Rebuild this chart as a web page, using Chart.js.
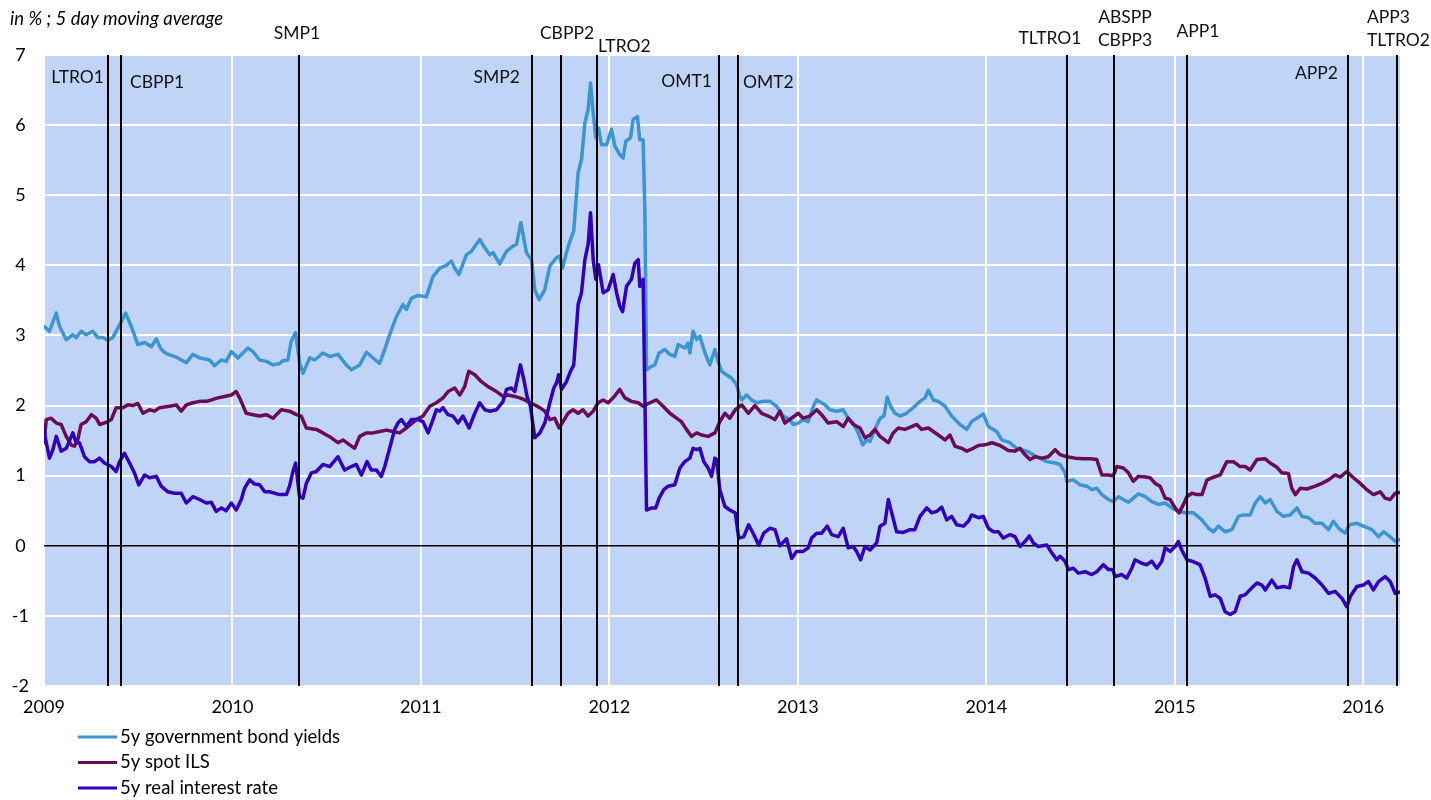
<!DOCTYPE html>
<html>
<head>
<meta charset="utf-8">
<title>5y yields, ILS and real rates</title>
<script src="https://cdn.jsdelivr.net/npm/chart.js@4.4.1/dist/chart.umd.min.js"></script>
<style>
  html, body { margin: 0; padding: 0; background: #fff; }
  #wrap { width: 1431px; height: 800px; }
</style>
</head>
<body>
<div id="wrap"><canvas id="rates-chart" width="1431" height="800"></canvas></div>
<script>
  // axis ticks
  const yearTicks = [2009, 2010, 2011, 2012, 2013, 2014, 2015, 2016];
  const valueTicks = [-2, -1, 0, 1, 2, 3, 4, 5, 6, 7];
  const lastDate = 2016.195;

  // ECB announcements (fractional year) and their names
  const eventDates = [2009.339, 2009.410, 2010.354, 2011.591, 2011.744, 2011.935,
    2012.582, 2012.683, 2014.427, 2014.678, 2015.066, 2015.920, 2016.180];
  const eventLabels = [['LTRO1'], ['CBPP1'], ['SMP1'], ['SMP2'], ['CBPP2'], ['LTRO2'],
    ['OMT1'], ['OMT2'], ['TLTRO1'], ['ABSPP', 'CBPP3'], ['APP1'], ['APP2'], ['APP3', 'TLTRO2']];

  // [date, %] pairs, 5 day moving average
  const bondYields = [
    [2009.000,3.13],[2009.029,3.06],[2009.065,3.32],[2009.082,3.13],[2009.118,2.94],[2009.153,3.01],
    [2009.171,2.97],[2009.197,3.06],[2009.224,3.01],[2009.259,3.06],[2009.286,2.97],[2009.312,2.97],
    [2009.339,2.93],[2009.365,2.97],[2009.401,3.15],[2009.433,3.32],[2009.463,3.13],[2009.498,2.87],
    [2009.534,2.90],[2009.569,2.84],[2009.596,2.95],[2009.622,2.80],[2009.649,2.74],[2009.702,2.69],
    [2009.755,2.61],[2009.790,2.73],[2009.826,2.68],[2009.879,2.65],[2009.905,2.57],[2009.941,2.65],
    [2009.967,2.63],[2009.994,2.77],[2010.029,2.68],[2010.082,2.82],[2010.109,2.77],[2010.144,2.65],
    [2010.180,2.63],[2010.215,2.58],[2010.250,2.60],[2010.268,2.64],[2010.294,2.65],[2010.312,2.92],
    [2010.335,3.04],[2010.356,2.61],[2010.374,2.46],[2010.410,2.68],[2010.436,2.65],[2010.480,2.75],
    [2010.516,2.70],[2010.560,2.73],[2010.604,2.58],[2010.631,2.51],[2010.675,2.58],[2010.711,2.76],
    [2010.737,2.70],[2010.781,2.60],[2010.808,2.80],[2010.834,3.01],[2010.870,3.27],[2010.905,3.44],
    [2010.923,3.37],[2010.949,3.53],[2010.985,3.57],[2011.029,3.55],[2011.064,3.84],[2011.100,3.96],
    [2011.135,4.00],[2011.162,4.06],[2011.179,3.96],[2011.202,3.87],[2011.241,4.15],[2011.268,4.20],
    [2011.312,4.37],[2011.339,4.25],[2011.365,4.15],[2011.383,4.18],[2011.418,4.02],[2011.454,4.20],
    [2011.486,4.27],[2011.507,4.30],[2011.530,4.61],[2011.560,4.18],[2011.587,4.08],[2011.604,3.65],
    [2011.627,3.51],[2011.657,3.65],[2011.684,3.99],[2011.719,4.11],[2011.737,4.13],[2011.751,3.96],
    [2011.772,4.18],[2011.790,4.34],[2011.811,4.49],[2011.834,5.32],[2011.852,5.51],[2011.870,6.03],
    [2011.887,6.22],[2011.900,6.60],[2011.914,6.17],[2011.928,5.82],[2011.942,5.96],[2011.958,5.72],
    [2011.985,5.72],[2012.011,5.94],[2012.029,5.70],[2012.055,5.58],[2012.073,5.53],[2012.087,5.77],
    [2012.112,5.82],[2012.126,6.08],[2012.149,6.12],[2012.161,5.79],[2012.179,5.79],[2012.188,4.80],
    [2012.197,2.51],[2012.224,2.56],[2012.241,2.58],[2012.264,2.75],[2012.294,2.80],[2012.321,2.73],
    [2012.347,2.70],[2012.365,2.87],[2012.400,2.82],[2012.418,2.89],[2012.427,2.75],[2012.444,3.06],
    [2012.463,2.94],[2012.480,2.99],[2012.507,2.75],[2012.533,2.58],[2012.560,2.80],[2012.577,2.63],
    [2012.595,2.49],[2012.622,2.44],[2012.648,2.39],[2012.675,2.30],[2012.692,2.13],[2012.702,2.08],
    [2012.728,2.15],[2012.755,2.08],[2012.781,2.04],[2012.816,2.06],[2012.852,2.06],[2012.887,1.99],
    [2012.922,1.85],[2012.958,1.80],[2012.975,1.73],[2013.002,1.75],[2013.028,1.80],[2013.055,1.77],
    [2013.082,1.99],[2013.100,2.08],[2013.144,2.01],[2013.170,1.94],[2013.206,1.92],[2013.241,1.94],
    [2013.267,1.82],[2013.294,1.75],[2013.320,1.61],[2013.344,1.44],[2013.365,1.51],[2013.383,1.49],
    [2013.409,1.66],[2013.436,1.82],[2013.457,1.85],[2013.474,2.12],[2013.492,1.99],[2013.515,1.89],
    [2013.542,1.85],[2013.577,1.89],[2013.612,1.97],[2013.648,2.06],[2013.675,2.11],[2013.692,2.22],
    [2013.719,2.08],[2013.745,2.06],[2013.781,1.99],[2013.816,1.85],[2013.860,1.73],[2013.896,1.66],
    [2013.922,1.77],[2013.949,1.82],[2013.984,1.88],[2014.011,1.70],[2014.055,1.63],[2014.082,1.51],
    [2014.126,1.47],[2014.161,1.39],[2014.215,1.35],[2014.268,1.27],[2014.321,1.20],[2014.365,1.18],
    [2014.391,1.16],[2014.418,1.04],[2014.427,0.92],[2014.462,0.94],[2014.497,0.87],[2014.533,0.85],
    [2014.560,0.80],[2014.586,0.82],[2014.613,0.73],[2014.648,0.66],[2014.674,0.63],[2014.701,0.70],
    [2014.727,0.66],[2014.754,0.62],[2014.780,0.68],[2014.807,0.74],[2014.843,0.70],[2014.878,0.63],
    [2014.913,0.59],[2014.949,0.61],[2014.984,0.54],[2015.019,0.49],[2015.055,0.47],[2015.099,0.47],
    [2015.144,0.37],[2015.179,0.25],[2015.205,0.20],[2015.232,0.28],[2015.267,0.20],[2015.303,0.23],
    [2015.338,0.42],[2015.364,0.44],[2015.400,0.44],[2015.427,0.61],[2015.453,0.70],[2015.480,0.61],
    [2015.506,0.66],[2015.542,0.49],[2015.577,0.42],[2015.612,0.44],[2015.648,0.54],[2015.675,0.42],
    [2015.710,0.40],[2015.745,0.32],[2015.781,0.32],[2015.816,0.23],[2015.842,0.35],[2015.869,0.25],
    [2015.904,0.18],[2015.927,0.30],[2015.966,0.32],[2016.001,0.28],[2016.046,0.23],[2016.081,0.13],
    [2016.108,0.20],[2016.143,0.13],[2016.170,0.06],[2016.193,0.09]
  ];

  const spotIls = [
    [2009.000,1.47],[2009.012,1.80],[2009.038,1.82],[2009.065,1.75],[2009.091,1.73],[2009.118,1.56],
    [2009.144,1.44],[2009.162,1.42],[2009.179,1.51],[2009.197,1.73],[2009.224,1.77],[2009.251,1.87],
    [2009.277,1.82],[2009.295,1.73],[2009.330,1.76],[2009.357,1.80],[2009.383,1.97],[2009.418,1.97],
    [2009.445,2.01],[2009.471,2.00],[2009.498,2.03],[2009.525,1.89],[2009.560,1.94],[2009.587,1.92],
    [2009.613,1.97],[2009.666,1.99],[2009.702,2.01],[2009.728,1.92],[2009.755,2.01],[2009.790,2.04],
    [2009.826,2.06],[2009.861,2.06],[2009.888,2.08],[2009.923,2.11],[2009.958,2.13],[2009.994,2.15],
    [2010.020,2.20],[2010.038,2.11],[2010.073,1.89],[2010.109,1.87],[2010.144,1.85],[2010.180,1.87],
    [2010.215,1.82],[2010.259,1.94],[2010.303,1.92],[2010.339,1.87],[2010.365,1.85],[2010.392,1.68],
    [2010.445,1.66],[2010.480,1.61],[2010.525,1.54],[2010.560,1.47],[2010.586,1.51],[2010.622,1.44],
    [2010.648,1.39],[2010.675,1.56],[2010.711,1.61],[2010.746,1.61],[2010.781,1.63],[2010.817,1.65],
    [2010.852,1.63],[2010.887,1.61],[2010.923,1.68],[2010.976,1.80],[2011.011,1.85],[2011.047,1.99],
    [2011.082,2.04],[2011.117,2.11],[2011.144,2.20],[2011.179,2.25],[2011.206,2.15],[2011.232,2.27],
    [2011.254,2.49],[2011.286,2.44],[2011.321,2.34],[2011.356,2.27],[2011.401,2.20],[2011.436,2.13],
    [2011.462,2.15],[2011.498,2.13],[2011.524,2.11],[2011.551,2.08],[2011.578,2.04],[2011.604,2.01],
    [2011.631,1.97],[2011.657,1.92],[2011.684,1.80],[2011.710,1.82],[2011.733,1.68],[2011.754,1.77],
    [2011.781,1.89],[2011.807,1.94],[2011.834,1.89],[2011.860,1.94],[2011.887,1.85],[2011.914,1.92],
    [2011.940,2.04],[2011.967,2.08],[2011.993,2.04],[2012.020,2.11],[2012.055,2.23],[2012.082,2.11],
    [2012.117,2.06],[2012.153,2.04],[2012.179,1.99],[2012.215,2.04],[2012.250,2.08],[2012.285,1.99],
    [2012.321,1.89],[2012.356,1.82],[2012.382,1.77],[2012.409,1.66],[2012.436,1.56],[2012.463,1.61],
    [2012.489,1.58],[2012.524,1.56],[2012.560,1.61],[2012.586,1.77],[2012.613,1.89],[2012.639,1.82],
    [2012.668,1.94],[2012.702,2.01],[2012.737,1.89],[2012.772,2.00],[2012.808,1.89],[2012.843,1.85],
    [2012.878,1.80],[2012.905,1.92],[2012.931,1.75],[2012.967,1.82],[2013.002,1.89],[2013.028,1.82],
    [2013.064,1.85],[2013.100,1.94],[2013.126,1.87],[2013.161,1.75],[2013.206,1.77],[2013.241,1.70],
    [2013.267,1.82],[2013.294,1.73],[2013.330,1.68],[2013.356,1.54],[2013.383,1.58],[2013.409,1.66],
    [2013.436,1.56],[2013.480,1.47],[2013.506,1.61],[2013.533,1.68],[2013.568,1.66],[2013.604,1.70],
    [2013.631,1.73],[2013.657,1.66],[2013.692,1.68],[2013.719,1.63],[2013.745,1.58],[2013.781,1.51],
    [2013.807,1.58],[2013.834,1.42],[2013.869,1.39],[2013.896,1.35],[2013.931,1.39],[2013.958,1.43],
    [2013.993,1.44],[2014.029,1.47],[2014.073,1.43],[2014.117,1.36],[2014.152,1.35],[2014.179,1.39],
    [2014.205,1.30],[2014.232,1.23],[2014.259,1.27],[2014.294,1.25],[2014.329,1.27],[2014.365,1.37],
    [2014.391,1.30],[2014.427,1.27],[2014.471,1.25],[2014.515,1.24],[2014.551,1.24],[2014.586,1.23],
    [2014.613,1.01],[2014.648,1.01],[2014.674,1.00],[2014.692,1.13],[2014.727,1.11],[2014.754,1.04],
    [2014.780,0.92],[2014.807,0.99],[2014.843,0.98],[2014.869,0.97],[2014.896,0.89],[2014.922,0.85],
    [2014.949,0.68],[2014.975,0.66],[2015.002,0.54],[2015.023,0.47],[2015.046,0.59],[2015.064,0.70],
    [2015.091,0.75],[2015.118,0.73],[2015.144,0.73],[2015.171,0.94],[2015.197,0.97],[2015.241,1.01],
    [2015.276,1.20],[2015.311,1.20],[2015.347,1.13],[2015.373,1.13],[2015.400,1.08],[2015.436,1.23],
    [2015.480,1.24],[2015.506,1.18],[2015.542,1.12],[2015.568,1.04],[2015.603,1.03],[2015.621,0.82],
    [2015.640,0.73],[2015.666,0.82],[2015.701,0.81],[2015.745,0.85],[2015.781,0.89],[2015.816,0.94],
    [2015.851,1.01],[2015.878,0.98],[2015.913,1.06],[2015.948,0.97],[2015.984,0.89],[2016.019,0.80],
    [2016.054,0.73],[2016.090,0.77],[2016.116,0.68],[2016.143,0.66],[2016.170,0.75],[2016.193,0.76]
  ];

  const realRates = [
    [2009.000,1.66],[2009.012,1.47],[2009.029,1.25],[2009.047,1.37],[2009.065,1.56],[2009.091,1.35],
    [2009.118,1.39],[2009.153,1.61],[2009.171,1.47],[2009.188,1.47],[2009.215,1.27],[2009.242,1.20],
    [2009.268,1.20],[2009.295,1.25],[2009.321,1.18],[2009.357,1.13],[2009.383,1.06],[2009.401,1.20],
    [2009.427,1.32],[2009.454,1.18],[2009.480,1.04],[2009.503,0.87],[2009.534,1.01],[2009.560,0.97],
    [2009.596,0.99],[2009.622,0.85],[2009.657,0.77],[2009.693,0.75],[2009.728,0.75],[2009.755,0.61],
    [2009.790,0.70],[2009.826,0.66],[2009.861,0.61],[2009.888,0.62],[2009.914,0.49],[2009.941,0.54],
    [2009.967,0.50],[2009.994,0.61],[2010.020,0.51],[2010.047,0.66],[2010.064,0.82],[2010.091,0.94],
    [2010.118,0.88],[2010.144,0.87],[2010.171,0.77],[2010.197,0.77],[2010.250,0.73],[2010.286,0.73],
    [2010.303,0.85],[2010.321,1.06],[2010.335,1.18],[2010.356,0.70],[2010.374,0.68],[2010.392,0.89],
    [2010.419,1.04],[2010.445,1.06],[2010.480,1.16],[2010.516,1.13],[2010.560,1.27],[2010.595,1.08],
    [2010.631,1.13],[2010.657,1.16],[2010.684,1.01],[2010.714,1.20],[2010.737,1.08],[2010.764,1.08],
    [2010.790,0.99],[2010.808,1.13],[2010.834,1.39],[2010.861,1.66],[2010.878,1.75],[2010.896,1.80],
    [2010.923,1.70],[2010.949,1.80],[2010.985,1.80],[2011.011,1.77],[2011.038,1.61],[2011.064,1.80],
    [2011.082,1.94],[2011.100,1.92],[2011.117,1.97],[2011.144,1.87],[2011.170,1.85],[2011.197,1.75],
    [2011.223,1.85],[2011.255,1.68],[2011.286,1.89],[2011.312,2.04],[2011.339,1.94],[2011.365,1.92],
    [2011.401,1.94],[2011.436,2.06],[2011.454,2.23],[2011.480,2.25],[2011.498,2.20],[2011.528,2.58],
    [2011.546,2.37],[2011.563,2.13],[2011.581,1.99],[2011.604,1.54],[2011.631,1.61],[2011.657,1.75],
    [2011.684,2.04],[2011.705,2.25],[2011.719,2.32],[2011.731,2.44],[2011.746,2.23],[2011.772,2.34],
    [2011.794,2.49],[2011.811,2.58],[2011.834,3.44],[2011.852,3.61],[2011.870,4.08],[2011.887,4.30],
    [2011.900,4.75],[2011.914,4.08],[2011.928,3.80],[2011.942,4.01],[2011.967,3.61],[2011.993,3.65],
    [2012.020,3.87],[2012.038,3.61],[2012.055,3.42],[2012.070,3.34],[2012.091,3.70],[2012.117,3.80],
    [2012.135,4.03],[2012.153,4.08],[2012.161,3.70],[2012.179,3.80],[2012.188,2.18],[2012.197,0.51],
    [2012.224,0.54],[2012.246,0.54],[2012.264,0.68],[2012.289,0.80],[2012.312,0.85],[2012.347,0.87],
    [2012.374,1.11],[2012.400,1.20],[2012.427,1.25],[2012.444,1.39],[2012.463,1.37],[2012.480,1.39],
    [2012.501,1.20],[2012.524,1.11],[2012.542,0.99],[2012.560,1.25],[2012.569,1.23],[2012.586,0.80],
    [2012.613,0.56],[2012.639,0.51],[2012.668,0.47],[2012.686,0.11],[2012.713,0.13],[2012.739,0.30],
    [2012.766,0.16],[2012.792,0.01],[2012.819,0.18],[2012.852,0.25],[2012.879,0.23],[2012.905,0.00],
    [2012.940,0.10],[2012.967,-0.18],[2012.993,-0.08],[2013.028,-0.08],[2013.055,-0.03],[2013.073,0.11],
    [2013.100,0.18],[2013.126,0.18],[2013.156,0.28],[2013.179,0.16],[2013.214,0.13],[2013.241,0.25],
    [2013.267,-0.03],[2013.294,-0.01],[2013.312,-0.08],[2013.333,-0.20],[2013.356,-0.01],[2013.383,-0.06],
    [2013.418,0.04],[2013.436,0.28],[2013.462,0.32],[2013.480,0.66],[2013.498,0.47],[2013.524,0.20],
    [2013.559,0.19],[2013.595,0.23],[2013.621,0.23],[2013.648,0.42],[2013.684,0.54],[2013.710,0.47],
    [2013.737,0.49],[2013.763,0.55],[2013.790,0.37],[2013.816,0.42],[2013.843,0.30],[2013.878,0.28],
    [2013.905,0.35],[2013.922,0.44],[2013.958,0.40],[2013.984,0.42],[2014.011,0.25],[2014.038,0.20],
    [2014.064,0.20],[2014.090,0.11],[2014.126,0.16],[2014.152,0.13],[2014.179,-0.01],[2014.205,0.06],
    [2014.228,0.14],[2014.249,0.04],[2014.276,-0.01],[2014.321,0.01],[2014.347,-0.10],[2014.374,-0.20],
    [2014.391,-0.15],[2014.418,-0.22],[2014.435,-0.34],[2014.462,-0.32],[2014.488,-0.39],[2014.524,-0.37],
    [2014.560,-0.41],[2014.586,-0.37],[2014.621,-0.27],[2014.648,-0.34],[2014.671,-0.34],[2014.683,-0.44],
    [2014.718,-0.41],[2014.745,-0.46],[2014.772,-0.32],[2014.789,-0.20],[2014.825,-0.25],[2014.851,-0.27],
    [2014.878,-0.22],[2014.905,-0.32],[2014.931,-0.22],[2014.949,-0.03],[2014.975,-0.08],[2015.002,-0.01],
    [2015.019,0.06],[2015.037,-0.06],[2015.064,-0.20],[2015.091,-0.22],[2015.118,-0.25],[2015.134,-0.27],
    [2015.161,-0.46],[2015.188,-0.72],[2015.214,-0.70],[2015.241,-0.75],[2015.267,-0.94],[2015.294,-0.98],
    [2015.320,-0.94],[2015.347,-0.72],[2015.373,-0.70],[2015.409,-0.60],[2015.436,-0.53],[2015.462,-0.56],
    [2015.480,-0.63],[2015.515,-0.49],[2015.542,-0.60],[2015.577,-0.58],[2015.609,-0.60],[2015.630,-0.30],
    [2015.648,-0.20],[2015.675,-0.37],[2015.710,-0.39],[2015.745,-0.46],[2015.781,-0.56],[2015.816,-0.68],
    [2015.851,-0.65],[2015.887,-0.75],[2015.913,-0.87],[2015.932,-0.72],[2015.966,-0.58],[2016.001,-0.56],
    [2016.028,-0.51],[2016.054,-0.63],[2016.081,-0.51],[2016.116,-0.44],[2016.143,-0.51],[2016.170,-0.68],
    [2016.193,-0.66]
  ];

  const seriesNames = ['5y government bond yields', '5y spot ILS', '5y real interest rate'];
  const seriesColors = ['#3d95cf', '#6b0b55', '#3300b8'];

  // where each event name sits: offset from its line, first row centre, alignment
  const labelSpots = [
    { dx: -4, y: 77, align: 'right' },
    { dx: 9, y: 82, align: 'left' },
    { dx: -2, y: 33, align: 'center' },
    { dx: -12, y: 77, align: 'right' },
    { dx: 6, y: 33, align: 'center' },
    { dx: 1, y: 46, align: 'left' },
    { dx: -7, y: 81, align: 'right' },
    { dx: 5, y: 82, align: 'left' },
    { dx: -17, y: 38, align: 'center' },
    { dx: 11, y: 17, align: 'center' },
    { dx: 11, y: 31, align: 'center' },
    { dx: -10, y: 73, align: 'right' },
    { dx: -30, y: 17, align: 'left' }
  ];

  const fontStack = 'Lato, "DejaVu Sans", sans-serif';
  const axisFont = { family: fontStack, size: 18 };
  const textColor = '#000000';

  const toPoints = pairs => pairs.map(p => ({ x: p[0], y: p[1] }));

  // light blue plot area
  const plotBackground = {
    id: 'plotBackground',
    beforeDraw(chart) {
      const { ctx, chartArea: a } = chart;
      ctx.save();
      ctx.fillStyle = '#c0d4f8';
      ctx.fillRect(a.left, a.top, a.right - a.left, a.bottom - a.top);
      ctx.restore();
    }
  };

  // vertical lines for each announcement, with names
  const eventMarkers = {
    id: 'eventMarkers',
    afterDatasetsDraw(chart) {
      const { ctx, chartArea: a } = chart;
      const xScale = chart.scales.x;
      ctx.save();
      ctx.strokeStyle = '#000';
      ctx.lineWidth = 2;
      ctx.fillStyle = '#111';
      ctx.font = '17.5px ' + fontStack;
      ctx.textBaseline = 'middle';
      eventDates.forEach((d, i) => {
        const x = Math.round(xScale.getPixelForValue(d));
        ctx.beginPath();
        ctx.moveTo(x, a.top);
        ctx.lineTo(x, a.bottom);
        ctx.stroke();
        const spot = labelSpots[i];
        ctx.textAlign = spot.align;
        eventLabels[i].forEach((txt, row) => {
          ctx.fillText(txt, x + spot.dx, spot.y + row * 23);
        });
      });
      ctx.restore();
    }
  };

  // unit note and legend
  const notesAndLegend = {
    id: 'notesAndLegend',
    afterDraw(chart) {
      const { ctx } = chart;
      ctx.save();
      ctx.fillStyle = textColor;
      ctx.textBaseline = 'middle';
      ctx.textAlign = 'left';
      ctx.font = 'italic 18.5px ' + fontStack;
      ctx.fillText('in % ; 5 day moving average', 10, 19);

      ctx.font = '18.5px ' + fontStack;
      chart.data.datasets.forEach((ds, i) => {
        const y = 737 + i * 25.5;
        ctx.strokeStyle = ds.borderColor;
        ctx.lineWidth = 3;
        ctx.beginPath();
        ctx.moveTo(78, y);
        ctx.lineTo(117, y);
        ctx.stroke();
        ctx.fillText(ds.label, 120, y);
      });
      ctx.restore();
    }
  };

  const ctx = document.getElementById('rates-chart').getContext('2d');
  new Chart(ctx, {
    type: 'line',
    data: {
      datasets: [
        { label: seriesNames[0], data: toPoints(bondYields), borderColor: seriesColors[0], order: 3 },
        { label: seriesNames[1], data: toPoints(spotIls), borderColor: seriesColors[1], order: 2 },
        { label: seriesNames[2], data: toPoints(realRates), borderColor: seriesColors[2], order: 1 }
      ]
    },
    options: {
      responsive: false,
      animation: false,
      devicePixelRatio: 1,
      layout: { padding: { left: 0, top: 55, right: 31, bottom: 0 } },
      elements: {
        line: { borderWidth: 3.5, tension: 0, fill: false, borderJoinStyle: 'round', borderCapStyle: 'round' },
        point: { radius: 0 }
      },
      plugins: {
        legend: { display: false },
        tooltip: { enabled: false }
      },
      scales: {
        x: {
          type: 'linear',
          min: yearTicks[0],
          max: lastDate,
          afterBuildTicks(scale) { scale.ticks = yearTicks.map(v => ({ value: v })); },
          afterFit(scale) { scale.height = 114; },
          ticks: {
            callback: v => String(v),
            font: axisFont,
            color: textColor,
            padding: 10,
            maxRotation: 0,
            autoSkip: false
          },
          grid: { color: '#ffffff', lineWidth: 2, drawTicks: false },
          border: { display: false }
        },
        y: {
          min: valueTicks[0],
          max: valueTicks[valueTicks.length - 1],
          afterBuildTicks(scale) { scale.ticks = valueTicks.map(v => ({ value: v })); },
          afterFit(scale) { scale.width = 44; },
          ticks: {
            font: axisFont,
            color: textColor,
            crossAlign: 'center',
            padding: 15
          },
          grid: {
            color: c => (c.tick && c.tick.value === 0 ? '#000000' : '#ffffff'),
            lineWidth: c => (c.tick && c.tick.value === 0 ? 1.5 : 2),
            drawTicks: false
          },
          border: { display: false }
        }
      }
    },
    plugins: [plotBackground, eventMarkers, notesAndLegend]
  });
</script>
</body>
</html>
